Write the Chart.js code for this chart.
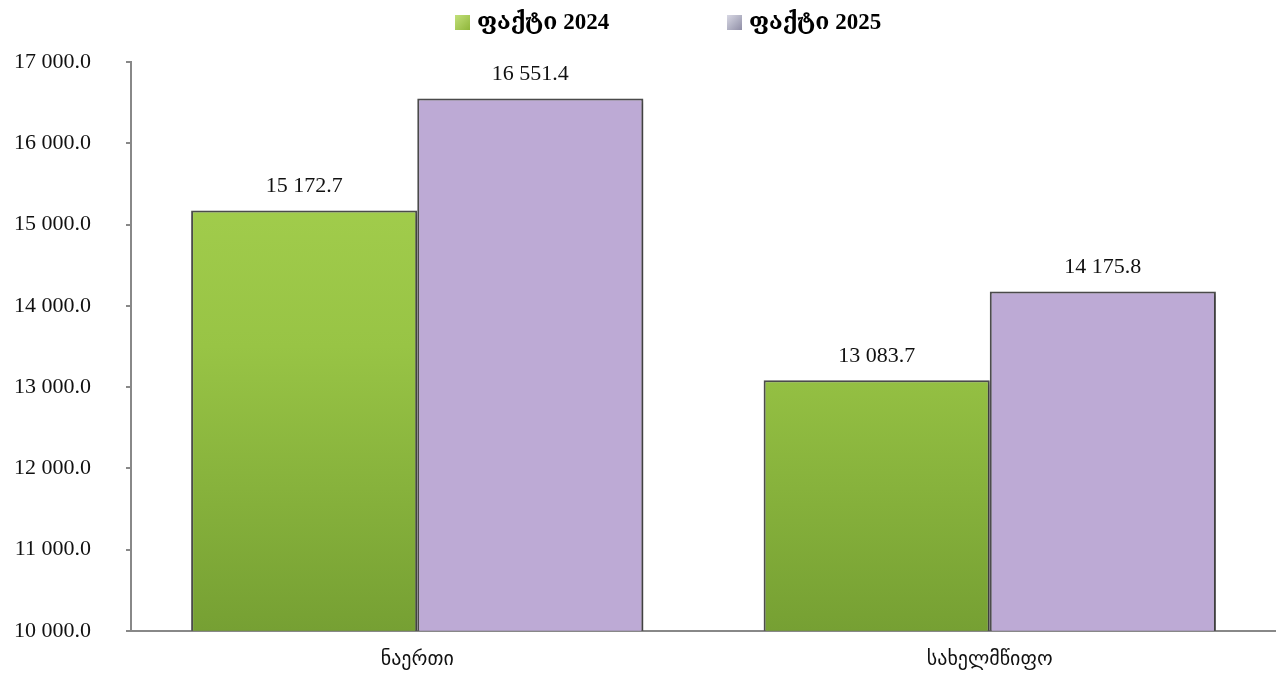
<!DOCTYPE html>
<html>
<head>
<meta charset="utf-8">
<script src="https://cdn.jsdelivr.net/npm/chart.js@4"></script>
<style>
  html, body { margin: 0; padding: 0; background: #fff; }
  #wrap { width: 1276px; height: 679px; }
</style>
</head>
<body>
<div id="wrap"><canvas id="chart"></canvas></div>
<script>
// data
const categories = ["ნაერთი", "სახელმწიფო"];
const seriesNames = ["ფაქტი 2024", "ფაქტი 2025"];
const fact2024 = [15172.7, 13083.7];
const fact2025 = [16551.4, 14175.8];
const yMin = 10000;
const yMax = 17000;
const yStep = 1000;

const serif = "'Liberation Serif', 'DejaVu Serif', serif";
const geo = "'DejaVu Sans', sans-serif";

// 17 000.0 style
function fmt(v) {
    const parts = v.toFixed(1).split(".");
    return parts[0].replace(/\B(?=(\d{3})+(?!\d))/g, " ") + "." + parts[1];
}

function greenFill(ctx) {
    const area = ctx.chart.chartArea;
    if (!area) return "#94bf43";
    const g = ctx.chart.ctx.createLinearGradient(0, area.top, 0, area.bottom);
    g.addColorStop(0, "#aad452");
    g.addColorStop(0.5, "#98c445");
    g.addColorStop(1, "#76a033");
    return g;
}

// value labels above bars
const valueLabels = {
    id: "valueLabels",
    afterDatasetsDraw(chart) {
        const c = chart.ctx;
        c.save();
        c.font = "22px " + serif;
        c.fillStyle = "#111";
        c.textAlign = "center";
        c.textBaseline = "bottom";
        chart.data.datasets.forEach((ds, i) => {
            chart.getDatasetMeta(i).data.forEach((bar, j) => {
                c.fillText(fmt(ds.data[j]), bar.x, bar.y - 13);
            });
        });
        c.restore();
    }
};

// legend drawn by hand so the item gap can be wide
const topLegend = {
    id: "topLegend",
    afterDraw(chart) {
        const c = chart.ctx;
        const boxColors = [["#c2e07a", "#8fb63a"], ["#d8d8e4", "#8f8ea6"]];
        const startX = [455, 727];
        c.save();
        c.font = "bold 23px " + serif;
        c.textBaseline = "middle";
        seriesNames.forEach((name, i) => {
            const x = startX[i], y = 15;
            const g = c.createLinearGradient(x, y, x + 15, y + 15);
            g.addColorStop(0, boxColors[i][0]);
            g.addColorStop(1, boxColors[i][1]);
            c.fillStyle = g;
            c.fillRect(x, y, 15, 15);
            c.fillStyle = "#000";
            c.fillText(name, x + 22, y + 8);
        });
        c.restore();
    }
};

// faint shadow under bars
const barShadow = {
    id: "barShadow",
    beforeDatasetsDraw(chart) {
        const c = chart.ctx;
        c.save();
        c.shadowColor = "rgba(0,0,0,0.25)";
        c.shadowBlur = 4;
        c.shadowOffsetX = 2;
        c.shadowOffsetY = 2;
    },
    afterDatasetsDraw(chart) {
        chart.ctx.restore();
    }
};

new Chart(document.getElementById("chart"), {
    type: "bar",
    data: {
        labels: categories,
        datasets: [
            {
                label: seriesNames[0],
                data: fact2024,
                backgroundColor: greenFill,
                borderColor: "#4d4d4d",
                borderWidth: 2,
                categoryPercentage: 0.79,
                barPercentage: 1.0
            },
            {
                label: seriesNames[1],
                data: fact2025,
                backgroundColor: "#bdaad5",
                borderColor: "#4d4d4d",
                borderWidth: 2,
                categoryPercentage: 0.79,
                barPercentage: 1.0
            }
        ]
    },
    options: {
        responsive: true,
        maintainAspectRatio: false,
        animation: false,
        layout: { padding: { left: 0, right: 0, top: 62, bottom: 0 } },
        plugins: {
            tooltip: { enabled: false },
            legend: { display: false }
        },
        scales: {
            x: {
                afterFit(scale) { scale.height = 47; },
                grid: { display: false, drawTicks: false },
                border: { display: true, color: "#888", width: 2 },
                ticks: {
                    font: { family: geo, size: 20 },
                    color: "#111",
                    padding: 17
                }
            },
            y: {
                min: yMin,
                max: yMax,
                afterFit(scale) { scale.width = 131; },
                grid: {
                    display: true,
                    drawOnChartArea: false,
                    drawTicks: true,
                    tickLength: 5,
                    color: "#888",
                    lineWidth: 2
                },
                border: { display: true, color: "#888", width: 2 },
                ticks: {
                    stepSize: yStep,
                    font: { family: serif, size: 22 },
                    color: "#111",
                    padding: 35,
                    callback: v => fmt(v)
                }
            }
        }
    },
    plugins: [barShadow, valueLabels, topLegend]
});
</script>
</body>
</html>
